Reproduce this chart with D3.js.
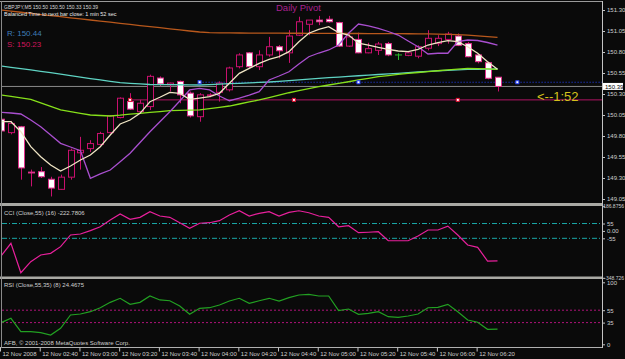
<!DOCTYPE html>
<html>
<head>
<meta charset="utf-8">
<script src="https://cdn.jsdelivr.net/npm/d3@7"></script>
<style>
  html, body { margin: 0; padding: 0; background: #0a0a0a; }
  svg { display: block; }
  text { font-family: "Liberation Sans", Arial, sans-serif; }
</style>
</head>
<body>
<script>
"use strict";

const w = 625;
const h = 359;

// M5 bars 02:20 .. 06:30
const opens = [150.00, 149.84, 149.91, 149.37, 149.375, 149.285, 149.165, 149.31, 149.60, 149.65,
  149.70, 149.84, 150.02, 150.21, 150.09, 150.15, 150.49, 150.41, 150.45, 150.31,
  150.03, 150.28, 150.32, 150.35, 150.625, 150.79, 150.625, 150.765, 150.863, 150.79,
  151.00, 151.13, 151.18, 151.19, 151.15, 150.87, 150.95, 150.79, 150.82, 150.90,
  150.765, 150.76, 150.75, 150.845, 150.90, 150.95, 150.99, 150.90, 150.765, 150.673, 150.50];
const highs = [150.02, 149.98, 149.92, 149.40, 149.43, 149.315, 149.34, 149.65, 149.79, 149.75,
  149.85, 150.05, 150.26, 150.31, 150.23, 150.53, 150.51, 150.435, 150.46, 150.33,
  150.31, 150.31, 150.45, 150.625, 150.785, 150.80, 150.82, 150.98, 150.883, 151.06,
  151.22, 151.18, 151.23, 151.23, 151.16, 151.03, 151.03, 150.91, 150.92, 150.92,
  150.785, 150.80, 150.88, 151.06, 151.00, 151.04, 151.02, 150.92, 150.77, 150.685, 150.50];
const lows = [149.79, 149.82, 149.28, 149.20, 149.30, 149.08, 149.16, 149.28, 149.40, 149.61,
  149.69, 149.83, 150.01, 150.11, 150.07, 150.11, 150.39, 150.33, 150.19, 150.02,
  149.97, 150.26, 150.21, 150.33, 150.605, 150.605, 150.585, 150.744, 150.725, 150.67,
  150.99, 151.00, 151.12, 151.15, 150.86, 150.86, 150.785, 150.785, 150.765, 150.75,
  150.705, 150.75, 150.725, 150.82, 150.87, 150.90, 150.87, 150.737, 150.665, 150.475, 150.33];
const closes = [149.86, 149.95, 149.42, 149.36, 149.315, 149.18, 149.31, 149.63, 149.63, 149.71,
  149.83, 150.04, 150.25, 150.12, 150.19, 150.51, 150.42, 150.43, 150.29, 150.04,
  150.29, 150.29, 150.43, 150.61, 150.765, 150.625, 150.765, 150.863, 150.815, 150.99,
  151.16, 151.18, 151.16, 151.16, 150.87, 150.98, 150.79, 150.84, 150.895, 150.765,
  150.765, 150.79, 150.863, 150.963, 150.963, 151.014, 150.88, 150.744, 150.685, 150.487, 150.39];

// moving averages on the price chart
const maBrown = [151.300, 151.287, 151.273, 151.260, 151.246, 151.233, 151.220, 151.207, 151.194, 151.181,
  151.168, 151.155, 151.142, 151.129, 151.115, 151.102, 151.089, 151.076, 151.063, 151.050,
  151.038, 151.030, 151.028, 151.027, 151.026, 151.025, 151.025, 151.024, 151.024, 151.023,
  151.023, 151.022, 151.022, 151.021, 151.021, 151.020, 151.020, 151.019, 151.019, 151.018,
  151.018, 151.017, 151.016, 151.015, 151.013, 151.011, 151.006, 151.000, 150.992, 150.983, 150.975];
const maCyan = [150.633, 150.618, 150.601, 150.586, 150.570, 150.554, 150.536, 150.518, 150.501, 150.483,
  150.467, 150.450, 150.435, 150.427, 150.420, 150.413, 150.412, 150.411, 150.410, 150.408,
  150.407, 150.412, 150.418, 150.423, 150.427, 150.432, 150.438, 150.443, 150.451, 150.460,
  150.468, 150.477, 150.486, 150.494, 150.502, 150.510, 150.517, 150.525, 150.532, 150.539,
  150.546, 150.554, 150.562, 150.569, 150.577, 150.582, 150.587, 150.592, 150.594, 150.595, 150.598];
const maLime = [150.288, 150.271, 150.254, 150.237, 150.195, 150.152, 150.110, 150.089, 150.070, 150.050,
  150.044, 150.038, 150.048, 150.061, 150.070, 150.081, 150.090, 150.101, 150.104, 150.107,
  150.110, 150.125, 150.142, 150.157, 150.181, 150.205, 150.229, 150.257, 150.287, 150.315,
  150.339, 150.363, 150.387, 150.407, 150.426, 150.446, 150.467, 150.486, 150.506, 150.519,
  150.533, 150.546, 150.556, 150.567, 150.577, 150.587, 150.596, 150.606, 150.602, 150.598, 150.594];
const maCream = [149.970, 149.970, 149.851, 149.673, 149.554, 149.455, 149.383, 149.443, 149.514, 149.574,
  149.673, 149.812, 149.943, 149.990, 150.070, 150.208, 150.261, 150.320, 150.308, 150.237,
  150.252, 150.268, 150.308, 150.427, 150.546, 150.606, 150.665, 150.713, 150.744, 150.804,
  150.923, 151.023, 151.070, 151.101, 151.030, 151.002, 150.904, 150.883, 150.856, 150.832,
  150.812, 150.804, 150.832, 150.883, 150.911, 150.935, 150.923, 150.863, 150.785, 150.685, 150.594];
const maPurple = [150.082, 150.074, 150.062, 149.990, 149.911, 149.812, 149.713, 149.669, 149.625, 149.296,
  149.348, 149.395, 149.494, 149.594, 149.723, 149.851, 149.970, 150.089, 150.217, 150.348,
  150.368, 150.348, 150.276, 150.220, 150.252, 150.288, 150.327, 150.467, 150.514, 150.565,
  150.657, 150.744, 150.788, 150.824, 150.883, 151.023, 151.133, 151.110, 151.082, 151.044,
  151.002, 150.931, 150.863, 150.776, 150.785, 150.785, 150.923, 150.943, 150.937, 150.913, 150.883];

const cciValues = [-187, -92, -311, -229, -179, -167, -117, -30, -23, 2,
  31, 81, 126, 86, 101, 143, 111, 101, 61, 19,
  57, 61, 76, 118, 150, 111, 131, 143, 111, 138,
  150, 135, 111, 101, 31, 39, -13, -10, -6, -73,
  -73, -73, -38, 7, 7, 36, -30, -105, -122, -224, -222.78];
const rsiValues = [34.8, 41.9, 20.3, 20.3, 18.7, 15.0, 25.8, 47.3, 48.9, 52.6,
  59.0, 67.7, 74.2, 64.5, 67.7, 77.9, 71.5, 70.3, 61.8, 48.4,
  58.0, 59.0, 63.4, 69.8, 74.2, 66.1, 70.3, 74.2, 69.8, 75.2,
  79.5, 80.6, 77.9, 77.9, 54.2, 56.9, 48.4, 50.0, 52.6, 44.5,
  43.5, 45.6, 48.9, 59.0, 59.7, 64.5, 52.6, 39.2, 35.5, 24.2, 24.47];

const priceTicks = [151.30, 151.05, 150.80, 150.55, 150.30, 150.05, 149.80, 149.55, 149.30, 149.05];
const lastPrice = 150.39;
const resistance = 150.44;
const support = 150.23;
const resistMarks = [20, 36, 52];
const supportMarks = [13, 29.5, 46];

const cciDomain = [-348.726, 186.8756];
const cciTicks = [186.8756, 55, 0, -55, -348.726];
const cciTickLabels = ["186.8756", "55", "0.00", "-55", "-348.726"];
const cciLevels = [55, -55];
const rsiTicks = [100, 55, 35, 0];
const rsiLevels = [55, 35];

const tickBars = [0, 4, 8, 12, 16, 20, 24, 28, 32, 36, 40, 44, 48];
const tickLabels = ["12 Nov 2008", "12 Nov 02:40", "12 Nov 03:00", "12 Nov 03:20", "12 Nov 03:40",
  "12 Nov 04:00", "12 Nov 04:20", "12 Nov 04:40", "12 Nov 05:00", "12 Nov 05:20",
  "12 Nov 05:40", "12 Nov 06:00", "12 Nov 06:20"];

//layout
const left = 2;
const right = 602;
const mainTop = 3, mainBottom = 203;
const cciTop = 206, cciBottom = 277;
const rsiTop = 279, rsiBottom = 347;

const svg = d3.select("body").append("svg").attr("width", w).attr("height", h);
svg.append("rect").attr("width", w).attr("height", h).attr("fill", "#0a0a0a");

const x = d3.scaleLinear().domain([0, 50]).range([1, 497.5]);
const yPrice = d3.scaleLinear().domain([149.05, 151.30]).range([199, 10]);
const yCci = d3.scaleLinear().domain(cciDomain).range([277.8, 205.8]);
const yRsi = d3.scaleLinear().domain([0, 100]).range([344.3, 282.3]);

const defs = svg.append("defs");
const addClip = (id, y0, y1) => {
  defs.append("clipPath").attr("id", id)
    .append("rect").attr("x", left).attr("y", y0).attr("width", right - left).attr("height", y1 - y0);
};
addClip("clipMain", mainTop, mainBottom);
addClip("clipCci", cciTop, cciBottom);
addClip("clipRsi", rsiTop, rsiBottom);

//frames and separators
svg.append("line").attr("x1", 0).attr("x2", right).attr("y1", 1.5).attr("y2", 1.5)
  .attr("stroke", "#9a9a9a").attr("stroke-width", 1);
[[203, 206], [276.5, 279]].forEach(([a, b]) => {
  svg.append("rect").attr("x", 0).attr("y", a).attr("width", right + 1).attr("height", b - a).attr("fill", "#a9a9a4");
});
svg.append("line").attr("x1", 0).attr("x2", right).attr("y1", 347.5).attr("y2", 347.5)
  .attr("stroke", "#b0b0b0");
svg.append("line").attr("x1", 1.5).attr("x2", 1.5).attr("y1", 1).attr("y2", 348)
  .attr("stroke", "#8a8a8a");
svg.append("line").attr("x1", right + 0.5).attr("x2", right + 0.5).attr("y1", 1).attr("y2", 348)
  .attr("stroke", "#c4c4c4");

//main chart
const main = svg.append("g").attr("clip-path", "url(#clipMain)");

main.append("line").attr("x1", left).attr("x2", right)
  .attr("y1", yPrice(lastPrice)).attr("y2", yPrice(lastPrice))
  .attr("stroke", "#8a8a8a");
main.append("line").attr("x1", x(13)).attr("x2", right)
  .attr("y1", yPrice(support)).attr("y2", yPrice(support))
  .attr("stroke", "#b01464");
main.append("line").attr("x1", x(20)).attr("x2", right)
  .attr("y1", yPrice(resistance)).attr("y2", yPrice(resistance))
  .attr("stroke", "#2440ff").attr("stroke-dasharray", "1,2");

const bars = opens.map((o, i) => ({ i, o, h: highs[i], l: lows[i], c: closes[i] }));

const candle = main.selectAll("g.bar").data(bars).enter().append("g").attr("class", "bar");
candle.append("line")
  .attr("x1", (d) => Math.round(x(d.i)) + 0.5).attr("x2", (d) => Math.round(x(d.i)) + 0.5)
  .attr("y1", (d) => yPrice(d.h)).attr("y2", (d) => yPrice(d.l))
  .attr("stroke", (d) => (d.o === d.c ? "#2cb82c" : "#c8106e"));
candle.append("rect")
  .attr("x", (d) => Math.round(x(d.i)) - 2.5)
  .attr("y", (d) => yPrice(Math.max(d.o, d.c)))
  .attr("width", 6)
  .attr("height", (d) => Math.max(0.01, yPrice(Math.min(d.o, d.c)) - yPrice(Math.max(d.o, d.c))))
  .attr("fill", (d) => (d.c < d.o ? "#ffffff" : "#0a0a0a"))
  .attr("stroke", (d) => (d.o === d.c ? "#2cb82c" : d.c < d.o ? "#e0308c" : "#c8106e"))
  .attr("stroke-width", 1);

const priceLine = d3.line().x((d, i) => x(i)).y((d) => yPrice(d));
const maSeries = [
  [maBrown, "#b8581c"],
  [maCyan, "#5fd3c3"],
  [maLime, "#86e01a"],
  [maPurple, "#a94fcf"],
  [maCream, "#efe4c4"]
];
maSeries.forEach(([vals, col]) => {
  main.append("path").datum(vals).attr("d", priceLine)
    .attr("fill", "none").attr("stroke", col).attr("stroke-width", 1.3);
});

// pivot markers
main.selectAll("rect.rmark").data(resistMarks).enter().append("rect").attr("class", "rmark")
  .attr("x", (d) => x(d) - 1.5).attr("y", yPrice(resistance) - 1.5).attr("width", 3).attr("height", 3)
  .attr("fill", "#ffffff").attr("stroke", "#2440ff").attr("stroke-width", 1);
main.selectAll("rect.smark").data(supportMarks).enter().append("rect").attr("class", "smark")
  .attr("x", (d) => x(d) - 1.5).attr("y", yPrice(support) - 1.5).attr("width", 3).attr("height", 3)
  .attr("fill", "#ffffff").attr("stroke", "#e01030").attr("stroke-width", 1);

//texts on main chart
const addText = (txt, tx, ty, size, col) => {
  return svg.append("text").attr("x", tx).attr("y", ty).attr("font-size", size).attr("fill", col).text(txt);
};
addText("GBPJPY,M5 150.50 150.50 150.33 150.39", 4, 8.5, 5, "#d8d8d8");
addText("Balanced Time to next bar close: 1 min 52 sec", 4, 15.5, 5.5, "#e8e8e8");
addText("R: 150.44", 7, 36, 8, "#3f7cb8");
addText("S: 150.23", 7, 47, 8, "#d0155c");
addText("Daily Pivot", 276, 11, 9.5, "#a8208e");
addText("<--1:52", 537, 101, 13, "#d4c21c");

//price axis
const priceAxis = d3.axisRight(yPrice).tickValues(priceTicks).tickFormat(d3.format(".2f")).tickSize(3).tickPadding(2);
const gPrice = svg.append("g").attr("transform", `translate(${right},0)`).call(priceAxis);

const styleAxis = (g) => {
  g.select(".domain").remove();
  g.selectAll(".tick line").attr("stroke", "#c4c4c4");
  g.selectAll(".tick text").attr("fill", "#cfcfcf").attr("font-size", 6)
    .attr("font-family", "'Liberation Sans', Arial, sans-serif");
};
styleAxis(gPrice);

// current price box
svg.append("rect").attr("x", right + 1).attr("y", yPrice(lastPrice) - 3.5).attr("width", 20).attr("height", 7)
  .attr("fill", "#ffffff");
addText(d3.format(".2f")(lastPrice), right + 3, yPrice(lastPrice) + 2.2, 6, "#000000");

//CCI window
const cci = svg.append("g").attr("clip-path", "url(#clipCci)");
cciLevels.forEach((lv) => {
  cci.append("line").attr("x1", left).attr("x2", right).attr("y1", yCci(lv)).attr("y2", yCci(lv))
    .attr("stroke", "#1aa8a8").attr("stroke-dasharray", "5,2,1,2");
});
const cciLine = d3.line().x((d, i) => x(i)).y((d) => yCci(d));
cci.append("path").datum(cciValues).attr("d", cciLine)
  .attr("fill", "none").attr("stroke", "#e8209c").attr("stroke-width", 1.2);
addText("CCI (Close,55) (16) -222.7806", 4, 214.5, 6, "#cfcfcf");

const cciAxis = d3.axisRight(yCci).tickValues(cciTicks).tickFormat((d, i) => cciTickLabels[i]).tickSize(3).tickPadding(2);
const gCci = svg.append("g").attr("transform", `translate(${right},0)`).call(cciAxis);
styleAxis(gCci);
// long range labels are right aligned so they stay inside the picture
gCci.selectAll(".tick text")
  .filter((d) => d === cciDomain[0] || d === cciDomain[1])
  .attr("text-anchor", "end").attr("x", w - right - 1).attr("font-size", 5);

//RSI window
const rsi = svg.append("g").attr("clip-path", "url(#clipRsi)");
rsiLevels.forEach((lv) => {
  rsi.append("line").attr("x1", left).attr("x2", right).attr("y1", yRsi(lv)).attr("y2", yRsi(lv))
    .attr("stroke", "#b0127a").attr("stroke-dasharray", "2,2");
});
const rsiLine = d3.line().x((d, i) => x(i)).y((d) => yRsi(d));
rsi.append("path").datum(rsiValues).attr("d", rsiLine)
  .attr("fill", "none").attr("stroke", "#22a022").attr("stroke-width", 1.2);
addText("RSI (Close,55,35) (8) 24.4675", 4, 287, 6, "#cfcfcf");
addText("AFB, \u00a9 2001-2008 MetaQuotes Software Corp.", 4, 345, 6, "#cfcfcf");

const rsiAxis = d3.axisRight(yRsi).tickValues(rsiTicks).tickSize(3).tickPadding(2);
const gRsi = svg.append("g").attr("transform", `translate(${right},0)`).call(rsiAxis);
styleAxis(gRsi);

//time axis
const timeAxis = d3.axisBottom(x).tickValues(tickBars).tickFormat((d, i) => tickLabels[i]).tickSize(4);
const gTime = svg.append("g").attr("transform", "translate(0,347.5)").call(timeAxis);
styleAxis(gTime);
gTime.selectAll(".tick line").attr("transform", "translate(-1,0)");
gTime.selectAll(".tick text").attr("text-anchor", "start").attr("x", 1).attr("y", 4).attr("dy", "0.71em");
</script>
</body>
</html>
